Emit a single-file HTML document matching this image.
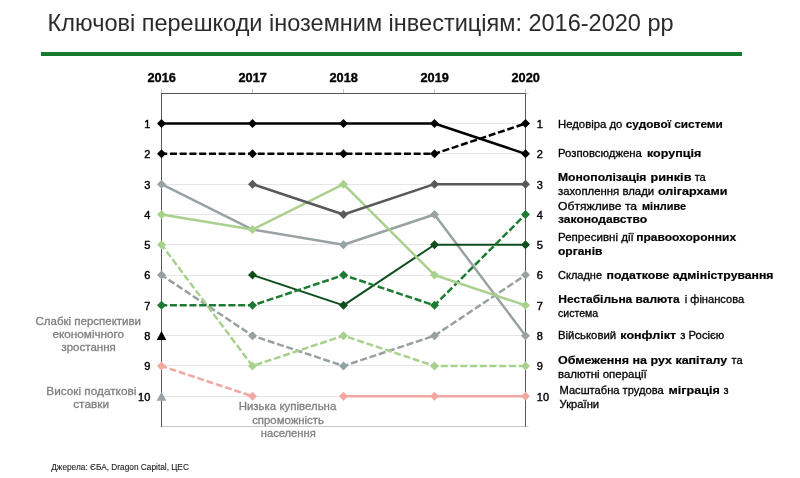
<!DOCTYPE html>
<html><head><meta charset="utf-8">
<style>
html,body{margin:0;padding:0;background:#fff;}
body{width:800px;height:478px;position:relative;overflow:hidden;font-family:"Liberation Sans",sans-serif;}
.bar{position:absolute;left:41px;top:52px;width:701px;height:3.5px;background:#137A2F;}
svg{position:absolute;left:0;top:0;font-family:"Liberation Sans",sans-serif;will-change:transform;}
</style></head><body>
<div class="bar"></div>
<svg width="800" height="478" viewBox="0 0 800 478">
<line x1="162" y1="123.5" x2="525" y2="123.5" stroke="#E6E6E6" stroke-width="1"/>
<line x1="162" y1="153.5" x2="525" y2="153.5" stroke="#E6E6E6" stroke-width="1"/>
<line x1="162" y1="184.5" x2="525" y2="184.5" stroke="#E6E6E6" stroke-width="1"/>
<line x1="162" y1="214.5" x2="525" y2="214.5" stroke="#E6E6E6" stroke-width="1"/>
<line x1="162" y1="244.5" x2="525" y2="244.5" stroke="#E6E6E6" stroke-width="1"/>
<line x1="162" y1="275.5" x2="525" y2="275.5" stroke="#E6E6E6" stroke-width="1"/>
<line x1="162" y1="305.5" x2="525" y2="305.5" stroke="#E6E6E6" stroke-width="1"/>
<line x1="162" y1="335.5" x2="525" y2="335.5" stroke="#E6E6E6" stroke-width="1"/>
<line x1="162" y1="365.5" x2="525" y2="365.5" stroke="#E6E6E6" stroke-width="1"/>
<line x1="162" y1="396.5" x2="525" y2="396.5" stroke="#E6E6E6" stroke-width="1"/>
<line x1="161.5" y1="426.5" x2="528.5" y2="426.5" stroke="#C8C8C8" stroke-width="1"/>
<line x1="525.5" y1="93.5" x2="528.5" y2="93.5" stroke="#D0D0D0" stroke-width="1"/>
<line x1="161" y1="93.5" x2="526" y2="93.5" stroke="#555555" stroke-width="1"/>
<line x1="161.5" y1="89" x2="161.5" y2="93" stroke="#C4C4C4" stroke-width="1"/>
<line x1="252.5" y1="89" x2="252.5" y2="93" stroke="#C4C4C4" stroke-width="1"/>
<line x1="343.5" y1="89" x2="343.5" y2="93" stroke="#C4C4C4" stroke-width="1"/>
<line x1="434.5" y1="89" x2="434.5" y2="93" stroke="#C4C4C4" stroke-width="1"/>
<line x1="525.5" y1="89" x2="525.5" y2="93" stroke="#C4C4C4" stroke-width="1"/>
<line x1="161.5" y1="93" x2="161.5" y2="427" stroke="#555555" stroke-width="1"/>
<line x1="525.5" y1="93" x2="525.5" y2="426.5" stroke="#555555" stroke-width="1"/>
<path d="M161.5,365.99 L252.5,396.30" fill="none" stroke="#F2A8A0" stroke-width="2.5" stroke-linejoin="round" stroke-dasharray="7 2.75" stroke-dashoffset="1.3"/>
<path d="M161.5,361.49L166.0,365.99L161.5,370.49L157.0,365.99Z" fill="#F2A8A0"/>
<path d="M252.5,391.80L257.0,396.30L252.5,400.80L248.0,396.30Z" fill="#F2A8A0"/>
<path d="M343.5,396.30 L434.5,396.30 L525.5,396.30" fill="none" stroke="#F2A8A0" stroke-width="2.5" stroke-linejoin="round"/>
<path d="M343.5,391.80L348.0,396.30L343.5,400.80L339.0,396.30Z" fill="#F2A8A0"/>
<path d="M434.5,391.80L439.0,396.30L434.5,400.80L430.0,396.30Z" fill="#F2A8A0"/>
<path d="M525.5,391.80L530.0,396.30L525.5,400.80L521.0,396.30Z" fill="#F2A8A0"/>
<path d="M161.5,275.06 L252.5,335.68 L343.5,365.99 L434.5,335.68 L525.5,275.06" fill="none" stroke="#97A1A1" stroke-width="2.5" stroke-linejoin="round" stroke-dasharray="7 2.75" stroke-dashoffset="1.3"/>
<path d="M161.5,270.56L166.0,275.06L161.5,279.56L157.0,275.06Z" fill="#97A1A1"/>
<path d="M252.5,331.18L257.0,335.68L252.5,340.18L248.0,335.68Z" fill="#97A1A1"/>
<path d="M343.5,361.49L348.0,365.99L343.5,370.49L339.0,365.99Z" fill="#97A1A1"/>
<path d="M434.5,331.18L439.0,335.68L434.5,340.18L430.0,335.68Z" fill="#97A1A1"/>
<path d="M525.5,270.56L530.0,275.06L525.5,279.56L521.0,275.06Z" fill="#97A1A1"/>
<path d="M161.5,244.75 L252.5,365.99 L343.5,335.68 L434.5,365.99 L525.5,365.99" fill="none" stroke="#A9D18E" stroke-width="2.5" stroke-linejoin="round" stroke-dasharray="7 2.75" stroke-dashoffset="1.3"/>
<path d="M161.5,240.25L166.0,244.75L161.5,249.25L157.0,244.75Z" fill="#A9D18E"/>
<path d="M252.5,361.49L257.0,365.99L252.5,370.49L248.0,365.99Z" fill="#A9D18E"/>
<path d="M343.5,331.18L348.0,335.68L343.5,340.18L339.0,335.68Z" fill="#A9D18E"/>
<path d="M434.5,361.49L439.0,365.99L434.5,370.49L430.0,365.99Z" fill="#A9D18E"/>
<path d="M525.5,361.49L530.0,365.99L525.5,370.49L521.0,365.99Z" fill="#A9D18E"/>
<path d="M161.5,184.13 L252.5,229.59 L343.5,244.75 L434.5,214.44 L525.5,335.68" fill="none" stroke="#98A2A2" stroke-width="2.5" stroke-linejoin="round"/>
<path d="M161.5,179.63L166.0,184.13L161.5,188.63L157.0,184.13Z" fill="#98A2A2"/>
<path d="M343.5,240.25L348.0,244.75L343.5,249.25L339.0,244.75Z" fill="#98A2A2"/>
<path d="M434.5,209.94L439.0,214.44L434.5,218.94L430.0,214.44Z" fill="#98A2A2"/>
<path d="M525.5,331.18L530.0,335.68L525.5,340.18L521.0,335.68Z" fill="#98A2A2"/>
<path d="M252.5,275.06 L343.5,305.37 L434.5,244.75 L525.5,244.75" fill="none" stroke="#0E4D1C" stroke-width="2.0" stroke-linejoin="round"/>
<path d="M252.5,270.56L257.0,275.06L252.5,279.56L248.0,275.06Z" fill="#0E4D1C"/>
<path d="M343.5,300.87L348.0,305.37L343.5,309.87L339.0,305.37Z" fill="#0E4D1C"/>
<path d="M434.5,240.25L439.0,244.75L434.5,249.25L430.0,244.75Z" fill="#0E4D1C"/>
<path d="M525.5,240.25L530.0,244.75L525.5,249.25L521.0,244.75Z" fill="#0E4D1C"/>
<path d="M161.5,305.37 L252.5,305.37 L343.5,275.06 L434.5,305.37 L525.5,214.44" fill="none" stroke="#1E7B34" stroke-width="2.5" stroke-linejoin="round" stroke-dasharray="7 2.75" stroke-dashoffset="1.3"/>
<path d="M161.5,300.87L166.0,305.37L161.5,309.87L157.0,305.37Z" fill="#1E7B34"/>
<path d="M252.5,300.87L257.0,305.37L252.5,309.87L248.0,305.37Z" fill="#1E7B34"/>
<path d="M343.5,270.56L348.0,275.06L343.5,279.56L339.0,275.06Z" fill="#1E7B34"/>
<path d="M434.5,300.87L439.0,305.37L434.5,309.87L430.0,305.37Z" fill="#1E7B34"/>
<path d="M525.5,209.94L530.0,214.44L525.5,218.94L521.0,214.44Z" fill="#1E7B34"/>
<path d="M161.5,214.44 L252.5,229.59 L343.5,184.13 L434.5,275.06 L525.5,305.37" fill="none" stroke="#A9D18E" stroke-width="2.5" stroke-linejoin="round"/>
<path d="M161.5,209.94L166.0,214.44L161.5,218.94L157.0,214.44Z" fill="#A9D18E"/>
<path d="M343.5,179.63L348.0,184.13L343.5,188.63L339.0,184.13Z" fill="#A9D18E"/>
<path d="M434.5,270.56L439.0,275.06L434.5,279.56L430.0,275.06Z" fill="#A9D18E"/>
<path d="M525.5,300.87L530.0,305.37L525.5,309.87L521.0,305.37Z" fill="#A9D18E"/>
<path d="M252.5,184.13 L343.5,214.44 L434.5,184.13 L525.5,184.13" fill="none" stroke="#595959" stroke-width="2.5" stroke-linejoin="round"/>
<path d="M252.5,179.63L257.0,184.13L252.5,188.63L248.0,184.13Z" fill="#595959"/>
<path d="M343.5,209.94L348.0,214.44L343.5,218.94L339.0,214.44Z" fill="#595959"/>
<path d="M434.5,179.63L439.0,184.13L434.5,188.63L430.0,184.13Z" fill="#595959"/>
<path d="M525.5,179.63L530.0,184.13L525.5,188.63L521.0,184.13Z" fill="#595959"/>
<path d="M161.5,153.82 L252.5,153.82 L343.5,153.82 L434.5,153.82 L525.5,123.51" fill="none" stroke="#000000" stroke-width="2.5" stroke-linejoin="round" stroke-dasharray="7 2.75" stroke-dashoffset="1.3"/>
<path d="M161.5,149.32L166.0,153.82L161.5,158.32L157.0,153.82Z" fill="#000000"/>
<path d="M252.5,149.32L257.0,153.82L252.5,158.32L248.0,153.82Z" fill="#000000"/>
<path d="M343.5,149.32L348.0,153.82L343.5,158.32L339.0,153.82Z" fill="#000000"/>
<path d="M434.5,149.32L439.0,153.82L434.5,158.32L430.0,153.82Z" fill="#000000"/>
<path d="M525.5,119.01L530.0,123.51L525.5,128.01L521.0,123.51Z" fill="#000000"/>
<path d="M161.5,123.51 L252.5,123.51 L343.5,123.51 L434.5,123.51 L525.5,153.82" fill="none" stroke="#000000" stroke-width="2.5" stroke-linejoin="round"/>
<path d="M161.5,119.01L166.0,123.51L161.5,128.01L157.0,123.51Z" fill="#000000"/>
<path d="M252.5,119.01L257.0,123.51L252.5,128.01L248.0,123.51Z" fill="#000000"/>
<path d="M343.5,119.01L348.0,123.51L343.5,128.01L339.0,123.51Z" fill="#000000"/>
<path d="M434.5,119.01L439.0,123.51L434.5,128.01L430.0,123.51Z" fill="#000000"/>
<path d="M525.5,149.32L530.0,153.82L525.5,158.32L521.0,153.82Z" fill="#000000"/>
<path d="M252.5,225.09L257.0,229.59L252.5,234.09L248.0,229.59Z" fill="#A9D18E"/>
<path d="M161.5,331.08L166.3,340.08L156.7,340.08Z" fill="#000000"/>
<path d="M161.5,391.70L166.3,400.70L156.7,400.70Z" fill="#98A2A2"/>
<text x="150.3" y="127.91" font-size="11" text-anchor="end" stroke="#000" stroke-width="0.4">1</text>
<text x="536.8" y="127.91" font-size="11" stroke="#000" stroke-width="0.4">1</text>
<text x="150.3" y="158.22" font-size="11" text-anchor="end" stroke="#000" stroke-width="0.4">2</text>
<text x="536.8" y="158.22" font-size="11" stroke="#000" stroke-width="0.4">2</text>
<text x="150.3" y="188.53" font-size="11" text-anchor="end" stroke="#000" stroke-width="0.4">3</text>
<text x="536.8" y="188.53" font-size="11" stroke="#000" stroke-width="0.4">3</text>
<text x="150.3" y="218.84" font-size="11" text-anchor="end" stroke="#000" stroke-width="0.4">4</text>
<text x="536.8" y="218.84" font-size="11" stroke="#000" stroke-width="0.4">4</text>
<text x="150.3" y="249.15" font-size="11" text-anchor="end" stroke="#000" stroke-width="0.4">5</text>
<text x="536.8" y="249.15" font-size="11" stroke="#000" stroke-width="0.4">5</text>
<text x="150.3" y="279.46" font-size="11" text-anchor="end" stroke="#000" stroke-width="0.4">6</text>
<text x="536.8" y="279.46" font-size="11" stroke="#000" stroke-width="0.4">6</text>
<text x="150.3" y="309.77" font-size="11" text-anchor="end" stroke="#000" stroke-width="0.4">7</text>
<text x="536.8" y="309.77" font-size="11" stroke="#000" stroke-width="0.4">7</text>
<text x="150.3" y="340.08" font-size="11" text-anchor="end" stroke="#000" stroke-width="0.4">8</text>
<text x="536.8" y="340.08" font-size="11" stroke="#000" stroke-width="0.4">8</text>
<text x="150.3" y="370.39" font-size="11" text-anchor="end" stroke="#000" stroke-width="0.4">9</text>
<text x="536.8" y="370.39" font-size="11" stroke="#000" stroke-width="0.4">9</text>
<text x="150.3" y="400.70" font-size="11" text-anchor="end" stroke="#000" stroke-width="0.4">10</text>
<text x="536.8" y="400.70" font-size="11" stroke="#000" stroke-width="0.4">10</text>
<text x="558.00" y="128" font-size="11" fill="#000000" stroke="#000000" stroke-width="0.3" textLength="64.42" lengthAdjust="spacingAndGlyphs">Недовіра до</text>
<text x="625.80" y="128" font-size="11.5" fill="#000000" font-weight="bold" stroke="#000000" stroke-width="0.2" textLength="97.07" lengthAdjust="spacingAndGlyphs">судової системи</text>
<text x="558.00" y="157.4" font-size="11" fill="#000000" stroke="#000000" stroke-width="0.3" textLength="83.92" lengthAdjust="spacingAndGlyphs">Розповсюджена</text>
<text x="647.00" y="157.4" font-size="11.5" fill="#000000" font-weight="bold" stroke="#000000" stroke-width="0.2" textLength="54.21" lengthAdjust="spacingAndGlyphs">корупція</text>
<text x="558.00" y="181" font-size="11.5" fill="#000000" font-weight="bold" stroke="#000000" stroke-width="0.2" textLength="88.41" lengthAdjust="spacingAndGlyphs">Монополізація</text>
<text x="650.50" y="181" font-size="11.5" fill="#000000" font-weight="bold" stroke="#000000" stroke-width="0.2" textLength="40.97" lengthAdjust="spacingAndGlyphs">ринків</text>
<text x="694.70" y="181" font-size="11" fill="#000000" stroke="#000000" stroke-width="0.3">та</text>
<text x="558.00" y="194.5" font-size="11" fill="#000000" stroke="#000000" stroke-width="0.3" textLength="96.14" lengthAdjust="spacingAndGlyphs">захоплення влади</text>
<text x="658.00" y="194.5" font-size="11.5" fill="#000000" font-weight="bold" stroke="#000000" stroke-width="0.2" textLength="69.37" lengthAdjust="spacingAndGlyphs">олігархами</text>
<text x="558.00" y="209.5" font-size="11" fill="#000000" stroke="#000000" stroke-width="0.3" textLength="79.12" lengthAdjust="spacingAndGlyphs">Обтяжливе та</text>
<text x="642.00" y="209.5" font-size="11.5" fill="#000000" font-weight="bold" stroke="#000000" stroke-width="0.2" textLength="44.10" lengthAdjust="spacingAndGlyphs">мінливе</text>
<text x="558.00" y="222.5" font-size="11.5" fill="#000000" font-weight="bold" stroke="#000000" stroke-width="0.2" textLength="89.02" lengthAdjust="spacingAndGlyphs">законодавство</text>
<text x="558.00" y="241" font-size="11" fill="#000000" stroke="#000000" stroke-width="0.3" textLength="75.76" lengthAdjust="spacingAndGlyphs">Репресивні дії</text>
<text x="636.20" y="241" font-size="11.5" fill="#000000" font-weight="bold" stroke="#000000" stroke-width="0.2" textLength="99.90" lengthAdjust="spacingAndGlyphs">правоохоронних</text>
<text x="558.00" y="254.5" font-size="11.5" fill="#000000" font-weight="bold" stroke="#000000" stroke-width="0.2" textLength="44.37" lengthAdjust="spacingAndGlyphs">органів</text>
<text x="558.00" y="279" font-size="11" fill="#000000" stroke="#000000" stroke-width="0.3" textLength="44.02" lengthAdjust="spacingAndGlyphs">Складне</text>
<text x="606.50" y="279" font-size="11.5" fill="#000000" font-weight="bold" stroke="#000000" stroke-width="0.2" textLength="167.01" lengthAdjust="spacingAndGlyphs">податкове адміністрування</text>
<text x="558.30" y="303" font-size="11.5" fill="#000000" font-weight="bold" stroke="#000000" stroke-width="0.2" textLength="121.30" lengthAdjust="spacingAndGlyphs">Нестабільна валюта</text>
<text x="684.70" y="303" font-size="11" fill="#000000" stroke="#000000" stroke-width="0.3" textLength="59.42" lengthAdjust="spacingAndGlyphs">і фінансова</text>
<text x="558.00" y="317" font-size="11" fill="#000000" stroke="#000000" stroke-width="0.3" textLength="40.12" lengthAdjust="spacingAndGlyphs">система</text>
<text x="558.00" y="339.4" font-size="11" fill="#000000" stroke="#000000" stroke-width="0.3" textLength="58.14" lengthAdjust="spacingAndGlyphs">Військовий</text>
<text x="620.30" y="339.4" font-size="11.5" fill="#000000" font-weight="bold" stroke="#000000" stroke-width="0.2" textLength="55.73" lengthAdjust="spacingAndGlyphs">конфлікт</text>
<text x="680.20" y="339.4" font-size="11" fill="#000000" stroke="#000000" stroke-width="0.3" textLength="44.15" lengthAdjust="spacingAndGlyphs">з Росією</text>
<text x="558.00" y="363.75" font-size="11.5" fill="#000000" font-weight="bold" stroke="#000000" stroke-width="0.2" textLength="169.30" lengthAdjust="spacingAndGlyphs">Обмеження на рух капіталу</text>
<text x="731.60" y="363.75" font-size="11" fill="#000000" stroke="#000000" stroke-width="0.3">та</text>
<text x="558.00" y="377.8" font-size="11" fill="#000000" stroke="#000000" stroke-width="0.3" textLength="88.76" lengthAdjust="spacingAndGlyphs">валютні операції</text>
<text x="559.50" y="394" font-size="11" fill="#000000" stroke="#000000" stroke-width="0.3" textLength="104.12" lengthAdjust="spacingAndGlyphs">Масштабна трудова</text>
<text x="668.50" y="394" font-size="11.5" fill="#000000" font-weight="bold" stroke="#000000" stroke-width="0.2" textLength="51.21" lengthAdjust="spacingAndGlyphs">міграція</text>
<text x="723.50" y="394" font-size="11" fill="#000000" stroke="#000000" stroke-width="0.3">з</text>
<text x="559.50" y="407.5" font-size="11" fill="#000000" stroke="#000000" stroke-width="0.3" textLength="39.64" lengthAdjust="spacingAndGlyphs">України</text>
<text x="35.50" y="325" font-size="11" fill="#7F7F7F" stroke="#7F7F7F" stroke-width="0.3" textLength="105.54" lengthAdjust="spacingAndGlyphs">Слабкі перспективи</text>
<text x="52.60" y="338" font-size="11" fill="#7F7F7F" stroke="#7F7F7F" stroke-width="0.3" textLength="71.52" lengthAdjust="spacingAndGlyphs">економічного</text>
<text x="61.40" y="351.4" font-size="11" fill="#7F7F7F" stroke="#7F7F7F" stroke-width="0.3" textLength="54.36" lengthAdjust="spacingAndGlyphs">зростання</text>
<text x="46.30" y="395.3" font-size="11" fill="#7F7F7F" stroke="#7F7F7F" stroke-width="0.3" textLength="90.04" lengthAdjust="spacingAndGlyphs">Високі податкові</text>
<text x="73.20" y="407.8" font-size="11" fill="#7F7F7F" stroke="#7F7F7F" stroke-width="0.3" textLength="35.94" lengthAdjust="spacingAndGlyphs">ставки</text>
<text x="238.70" y="410" font-size="11" fill="#7F7F7F" stroke="#7F7F7F" stroke-width="0.3" textLength="97.62" lengthAdjust="spacingAndGlyphs">Низька купівельна</text>
<text x="252.20" y="423.5" font-size="11" fill="#7F7F7F" stroke="#7F7F7F" stroke-width="0.3" textLength="71.73" lengthAdjust="spacingAndGlyphs">спроможність</text>
<text x="260.75" y="437.3" font-size="11" fill="#7F7F7F" stroke="#7F7F7F" stroke-width="0.3" textLength="55.01" lengthAdjust="spacingAndGlyphs">населення</text>
<text x="51.25" y="470" font-size="8.5" fill="#1a1a1a" stroke="#1a1a1a" stroke-width="0.1" textLength="137.64" lengthAdjust="spacingAndGlyphs">Джерела: ЄБА, Dragon Capital, ЦЕС</text>
<text x="47.60" y="30.6" font-size="23" fill="#2B2B2B" textLength="625.99" lengthAdjust="spacingAndGlyphs">Ключові перешкоди іноземним інвестиціям: 2016-2020 рр</text>
<text x="147.50" y="81.9" font-size="12.5" fill="#000000" font-weight="bold" stroke="#000000" stroke-width="0.35" textLength="28.45" lengthAdjust="spacingAndGlyphs">2016</text>
<text x="238.50" y="81.9" font-size="12.5" fill="#000000" font-weight="bold" stroke="#000000" stroke-width="0.35" textLength="28.45" lengthAdjust="spacingAndGlyphs">2017</text>
<text x="329.50" y="81.9" font-size="12.5" fill="#000000" font-weight="bold" stroke="#000000" stroke-width="0.35" textLength="28.45" lengthAdjust="spacingAndGlyphs">2018</text>
<text x="420.50" y="81.9" font-size="12.5" fill="#000000" font-weight="bold" stroke="#000000" stroke-width="0.35" textLength="28.45" lengthAdjust="spacingAndGlyphs">2019</text>
<text x="511.50" y="81.9" font-size="12.5" fill="#000000" font-weight="bold" stroke="#000000" stroke-width="0.35" textLength="28.45" lengthAdjust="spacingAndGlyphs">2020</text>
</svg>
</body></html>
